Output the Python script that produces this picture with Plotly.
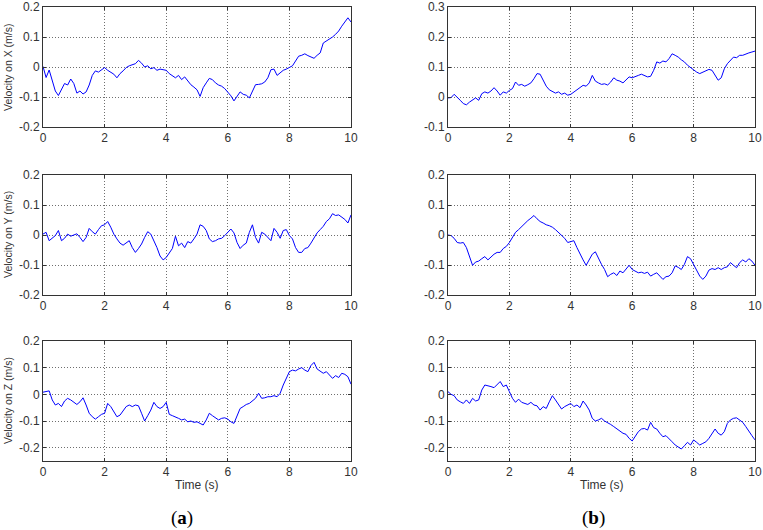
import plotly.graph_objects as go

# time base (s)
time_s = [round(i * 0.1, 1) for i in range(101)]

# (a) velocities
vx_a = [0.002, -0.035, -0.01, -0.05, -0.08, -0.095, -0.072, -0.055, -0.06, -0.04,
        -0.055, -0.087, -0.08, -0.09, -0.083, -0.06, -0.028, -0.013, -0.017, -0.008,
        -0.002, -0.011, -0.017, -0.024, -0.036, -0.022, -0.013, -0.002, 0.004, 0.008,
        0.011, 0.022, 0.013, 0.0, 0.004, -0.006, -0.002, -0.011, -0.007, -0.009,
        -0.011, -0.022, -0.029, -0.036, -0.028, -0.042, -0.033, -0.048, -0.059, -0.067,
        -0.076, -0.098, -0.069, -0.053, -0.038, -0.042, -0.053, -0.06, -0.064, -0.072,
        -0.084, -0.096, -0.113, -0.1, -0.083, -0.091, -0.094, -0.103, -0.078, -0.059,
        -0.058, -0.056, -0.05, -0.036, -0.009, -0.007, -0.028, -0.018, -0.011, -0.007,
        0.0, 0.004, 0.02, 0.036, 0.039, 0.044, 0.038, 0.033, 0.029, 0.039,
        0.047, 0.08, 0.087, 0.091, 0.1, 0.109, 0.12, 0.136, 0.149, 0.164, 0.15]
vy_a = [0.003, 0.009, -0.019, -0.011, -0.002, 0.015, -0.019, -0.011, 0.003, -0.004,
        0.0, 0.004, -0.008, -0.022, -0.008, 0.022, 0.011, 0.003, 0.018, 0.031,
        0.034, 0.045, 0.026, 0.003, -0.013, -0.027, -0.034, -0.027, -0.019, -0.042,
        -0.058, -0.045, -0.03, -0.008, 0.011, 0.003, -0.019, -0.042, -0.07, -0.083,
        -0.075, -0.058, -0.045, -0.004, -0.036, -0.027, -0.042, -0.022, -0.027, -0.013,
        0.003, 0.034, 0.029, 0.015, -0.013, -0.022, -0.019, -0.013, -0.011, -0.002,
        0.011, 0.02, 0.007, -0.025, -0.045, -0.034, -0.027, 0.009, 0.034, -0.008,
        -0.027, 0.009, 0.003, -0.008, -0.019, 0.022, 0.009, -0.011, 0.015, 0.018,
        -0.002, -0.013, -0.042, -0.058, -0.058, -0.045, -0.042, -0.027, -0.008, 0.007,
        0.018, 0.029, 0.045, 0.054, 0.071, 0.065, 0.067, 0.06, 0.052, 0.04, 0.067]
vz_a = [0.008, 0.01, 0.013, -0.021, -0.04, -0.034, -0.046, -0.025, -0.015, -0.021,
        -0.028, -0.038, -0.028, -0.013, -0.04, -0.071, -0.084, -0.093, -0.084, -0.075,
        -0.071, -0.034, -0.046, -0.065, -0.084, -0.078, -0.063, -0.046, -0.04, -0.046,
        -0.04, -0.043, -0.071, -0.1, -0.08, -0.059, -0.03, -0.046, -0.053, -0.046,
        -0.03, -0.075, -0.08, -0.084, -0.09, -0.096, -0.093, -0.103, -0.1, -0.105,
        -0.103, -0.109, -0.115, -0.096, -0.071, -0.08, -0.088, -0.096, -0.09, -0.088,
        -0.093, -0.103, -0.109, -0.078, -0.053, -0.046, -0.038, -0.034, -0.025, -0.015,
        0.004, -0.015, -0.013, -0.009, -0.009, -0.005, -0.009, 0.004, 0.035, 0.063,
        0.085, 0.091, 0.088, 0.095, 0.1, 0.091, 0.085, 0.108, 0.12, 0.095,
        0.088, 0.079, 0.085, 0.073, 0.06, 0.07, 0.063, 0.079, 0.075, 0.066, 0.038]

# (b) velocities
vx_b = [-0.003, -0.002, 0.009, 0.0, -0.011, -0.022, -0.026, -0.017, -0.011, -0.003,
        -0.011, 0.011, 0.017, 0.013, 0.02, 0.031, 0.02, 0.006, 0.017, 0.013,
        0.022, 0.028, 0.05, 0.039, 0.042, 0.036, 0.041, 0.047, 0.061, 0.078,
        0.076, 0.058, 0.036, 0.024, 0.018, 0.013, 0.017, 0.009, 0.013, 0.006,
        0.009, 0.017, 0.024, 0.033, 0.039, 0.036, 0.047, 0.072, 0.053, 0.047,
        0.042, 0.044, 0.04, 0.05, 0.064, 0.056, 0.053, 0.047, 0.058, 0.067,
        0.064, 0.069, 0.072, 0.076, 0.071, 0.067, 0.069, 0.089, 0.117, 0.113,
        0.12, 0.117, 0.128, 0.144, 0.139, 0.133, 0.124, 0.117, 0.106, 0.098,
        0.089, 0.083, 0.078, 0.083, 0.089, 0.092, 0.089, 0.072, 0.056, 0.064,
        0.094, 0.111, 0.122, 0.133, 0.131, 0.139, 0.139, 0.144, 0.147, 0.15, 0.153]
vy_b = [0.0, -0.002, -0.011, -0.025, -0.027, -0.025, -0.042, -0.075, -0.101, -0.09,
        -0.087, -0.079, -0.072, -0.083, -0.072, -0.064, -0.058, -0.058, -0.045, -0.038,
        -0.025, -0.008, 0.009, 0.018, 0.029, 0.037, 0.048, 0.056, 0.065, 0.054,
        0.045, 0.04, 0.034, 0.031, 0.026, 0.018, 0.009, 0.0, -0.011, -0.025,
        -0.022, -0.019, -0.042, -0.064, -0.083, -0.101, -0.083, -0.064, -0.056, -0.079,
        -0.098, -0.115, -0.139, -0.131, -0.126, -0.135, -0.12, -0.126, -0.112, -0.101,
        -0.115, -0.12, -0.126, -0.124, -0.128, -0.124, -0.137, -0.131, -0.126, -0.137,
        -0.148, -0.139, -0.137, -0.126, -0.103, -0.108, -0.115, -0.098, -0.072, -0.079,
        -0.098, -0.115, -0.137, -0.148, -0.137, -0.117, -0.112, -0.115, -0.109, -0.115,
        -0.109, -0.106, -0.092, -0.101, -0.109, -0.092, -0.083, -0.09, -0.079, -0.087, -0.101]
vz_b = [0.01, 0.0, -0.005, -0.021, -0.028, -0.034, -0.021, -0.034, -0.015, -0.025,
        -0.021, 0.016, 0.035, 0.033, 0.029, 0.025, 0.035, 0.048, 0.029, 0.035,
        0.01, -0.015, -0.03, -0.018, -0.03, -0.034, -0.038, -0.03, -0.04, -0.043,
        -0.059, -0.046, -0.053, -0.028, -0.005, -0.021, -0.04, -0.055, -0.046, -0.04,
        -0.034, -0.046, -0.04, -0.05, -0.025, -0.04, -0.059, -0.09, -0.1, -0.096,
        -0.09, -0.1, -0.105, -0.113, -0.121, -0.13, -0.138, -0.146, -0.15, -0.165,
        -0.175, -0.159, -0.14, -0.13, -0.128, -0.134, -0.105, -0.125, -0.13, -0.146,
        -0.159, -0.155, -0.165, -0.178, -0.19, -0.196, -0.205, -0.193, -0.18, -0.19,
        -0.171, -0.18, -0.19, -0.184, -0.178, -0.165, -0.146, -0.13, -0.146, -0.153,
        -0.14, -0.109, -0.096, -0.09, -0.088, -0.096, -0.105, -0.121, -0.14, -0.155, -0.171]

x_ticks = [0, 2, 4, 6, 8, 10]
y_labels = ["Velocity on X (m/s)", "Velocity on Y (m/s)", "Velocity on Z (m/s)"]
panel_labels = ["(<b>a</b>)", "(<b>b</b>)"]

series = [[vx_a, vx_b], [vy_a, vy_b], [vz_a, vz_b]]
y_ranges = [[[-0.2, 0.2], [-0.1, 0.3]],
            [[-0.2, 0.2], [-0.2, 0.2]],
            [[-0.25, 0.2], [-0.25, 0.2]]]
y_tickvals = [[[-0.2, -0.1, 0, 0.1, 0.2], [-0.1, 0, 0.1, 0.2, 0.3]],
              [[-0.2, -0.1, 0, 0.1, 0.2], [-0.2, -0.1, 0, 0.1, 0.2]],
              [[-0.2, -0.1, 0, 0.1, 0.2], [-0.2, -0.1, 0, 0.1, 0.2]]]

W, H = 763, 530
col_px = [(43, 351), (448, 755)]
row_px = [(7, 127), (175, 295), (341, 461)]

fig = go.Figure()
layout = dict(template="none", width=W, height=H, margin=dict(l=0, r=0, t=0, b=0, pad=0),
              paper_bgcolor="white", plot_bgcolor="white", showlegend=False,
              font=dict(family="Arial, Liberation Sans, sans-serif", size=12, color="#333333"))

def fmt(v):
    if v == 0:
        return "0"
    return ("%.1f" % v)

annotations = []
k = 0
for r in range(3):
    for c in range(2):
        k += 1
        xa = "xaxis" if k == 1 else "xaxis%d" % k
        ya = "yaxis" if k == 1 else "yaxis%d" % k
        xref = "x" if k == 1 else "x%d" % k
        yref = "y" if k == 1 else "y%d" % k
        x0, x1 = col_px[c]
        y0, y1 = row_px[r]
        common = dict(showline=True, linecolor="#333333", linewidth=1, mirror="ticks",
                      ticks="inside", ticklen=3, tickcolor="#333333",
                      showgrid=True, gridcolor="#6e6e6e", griddash="1px,2px", gridwidth=1,
                      zeroline=False, automargin=False, ticklabeloverflow="allow",
                      tickfont=dict(size=12, color="#333333"))
        layout[xa] = dict(domain=[x0 / W, x1 / W], range=[0, 10],
                          tickvals=x_ticks, ticktext=[str(t) for t in x_ticks],
                          anchor=yref, **common)
        tv = y_tickvals[r][c]
        layout[ya] = dict(domain=[1 - y1 / H, 1 - y0 / H], range=y_ranges[r][c],
                          tickvals=tv, ticktext=[fmt(v) for v in tv],
                          anchor=xref, **common)
        fig.add_trace(go.Scatter(x=time_s, y=series[r][c], mode="lines",
                                 line=dict(color="#0000ff", width=1),
                                 xaxis=xref, yaxis=yref))
        if c == 0:
            annotations.append(dict(text=y_labels[r], xref="paper", yref="paper",
                                    x=8 / W, y=1 - (y0 + y1) / 2 / H, textangle=-90,
                                    showarrow=False, xanchor="center", yanchor="middle",
                                    font=dict(size=10.5, color="#333333")))

for c in range(2):
    x0, x1 = col_px[c]
    annotations.append(dict(text="Time (s)", xref="paper", yref="paper",
                            x=(x0 + x1) / 2 / W, y=1 - 485 / H, showarrow=False,
                            xanchor="center", yanchor="middle",
                            font=dict(size=12, color="#333333")))

annotations.append(dict(text=panel_labels[0], xref="paper", yref="paper",
                        x=182 / W, y=1 - 518 / H, showarrow=False,
                        xanchor="center", yanchor="middle",
                        font=dict(size=19, color="black",
                                  family="Liberation Serif, Times New Roman, serif")))
annotations.append(dict(text=panel_labels[1], xref="paper", yref="paper",
                        x=593 / W, y=1 - 518 / H, showarrow=False,
                        xanchor="center", yanchor="middle",
                        font=dict(size=19, color="black",
                                  family="Liberation Serif, Times New Roman, serif")))

layout["annotations"] = annotations
fig.update_layout(**layout)
fig.write_html("out.html", config={"displayModeBar": False},
               post_script="document.body.style.margin='0';")
